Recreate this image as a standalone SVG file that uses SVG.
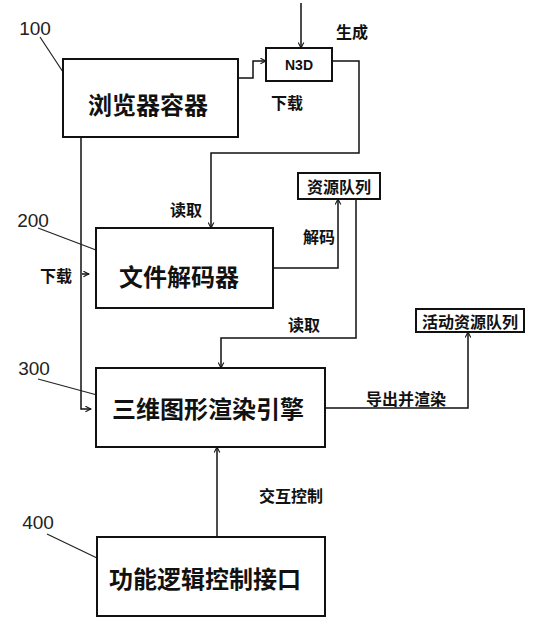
<svg xmlns="http://www.w3.org/2000/svg" width="536" height="630" viewBox="0 0 536 630">
<defs>
<style>
.box{fill:#fff;stroke:#111;stroke-width:2}
.big{font-family:"Noto Sans CJK SC","Noto Sans CJK JP",sans-serif;font-size:24px;font-weight:bold;fill:#111;text-anchor:middle;dominant-baseline:central}
.sm{font-family:"Noto Sans CJK SC","Noto Sans CJK JP",sans-serif;font-size:16px;font-weight:bold;fill:#111;text-anchor:middle;dominant-baseline:central}
.num{font-family:"Liberation Sans",Arial,sans-serif;font-size:19px;fill:#222;text-anchor:middle;dominant-baseline:central}
.ln{fill:none;stroke:#111;stroke-width:1.5}
.ld{fill:none;stroke:#222;stroke-width:1.2}
</style>
<marker id="ah" viewBox="0 0 10 10" refX="9" refY="5" markerWidth="7" markerHeight="7" orient="auto" markerUnits="userSpaceOnUse">
<path d="M1,1 L9,5 L1,9" fill="none" stroke="#111" stroke-width="1.5"/>
</marker>
</defs>
<rect width="536" height="630" fill="#fff"/>

<g id="connectors">
<path class="ln" d="M301,3 V48" marker-end="url(#ah)"/>
<path class="ln" d="M238,78 H253 V61 H266" marker-end="url(#ah)"/>
<path class="ln" d="M332,61 H359 V153 H211 V228" marker-end="url(#ah)"/>
<path class="ln" d="M273,268 H338 V199" marker-end="url(#ah)"/>
<path class="ln" d="M356,199 V338 H221 V368" marker-end="url(#ah)"/>
<path class="ln" d="M81,137 V409 H91" marker-end="url(#ah)"/>
<path class="ln" d="M82,274 H89" marker-end="url(#ah)"/>
<path class="ln" d="M325,408 H468 V332" marker-end="url(#ah)"/>
<path class="ln" d="M217,537 V447" marker-end="url(#ah)"/>
<path class="ld" d="M40,37 L63,72"/>
<path class="ld" d="M38,228 L96,250"/>
<path class="ld" d="M38,379 L97,395"/>
<path class="ld" d="M47,534 L97,558"/>
<text class="sm" x="352" y="31">生成</text>
<text class="sm" x="287" y="102">下载</text>
<text class="sm" x="186" y="209">读取</text>
<text class="sm" x="319" y="236">解码</text>
<text class="sm" x="56" y="275">下载</text>
<text class="sm" x="304" y="324">读取</text>
<text class="sm" x="406" y="398">导出并渲染</text>
<text class="sm" x="291" y="495">交互控制</text>
</g>

<g id="label-100"><text class="num" x="35" y="28">100</text></g>
<g id="label-200"><text class="num" x="33" y="220">200</text></g>
<g id="label-300"><text class="num" x="34" y="368">300</text></g>
<g id="label-400"><text class="num" x="38" y="522">400</text></g>

<g id="browser">
<rect class="box" x="63" y="59" width="175" height="78"/>
<text class="big" x="148" y="103">浏览器容器</text>
</g>
<g id="n3d">
<rect class="box" x="266" y="48" width="66" height="33"/>
<text x="299" y="65" font-family="Liberation Sans,Arial,sans-serif" font-size="14" font-weight="bold" fill="#111" text-anchor="middle" dominant-baseline="central">N3D</text>
</g>
<g id="decoder">
<rect class="box" x="96" y="228" width="177" height="80"/>
<text class="big" x="179" y="275">文件解码器</text>
</g>
<g id="resource-queue">
<rect class="box" x="298" y="173" width="82" height="26"/>
<text class="sm" x="339" y="186">资源队列</text>
</g>
<g id="engine">
<rect class="box" x="96" y="368" width="229" height="79"/>
<text class="big" x="208" y="407">三维图形渲染引擎</text>
</g>
<g id="active-queue">
<rect class="box" x="416" y="309" width="108" height="23"/>
<text class="sm" x="470" y="321">活动资源队列</text>
</g>
<g id="logic">
<rect class="box" x="97" y="537" width="228" height="79"/>
<text class="big" x="205" y="577">功能逻辑控制接口</text>
</g>
</svg>
